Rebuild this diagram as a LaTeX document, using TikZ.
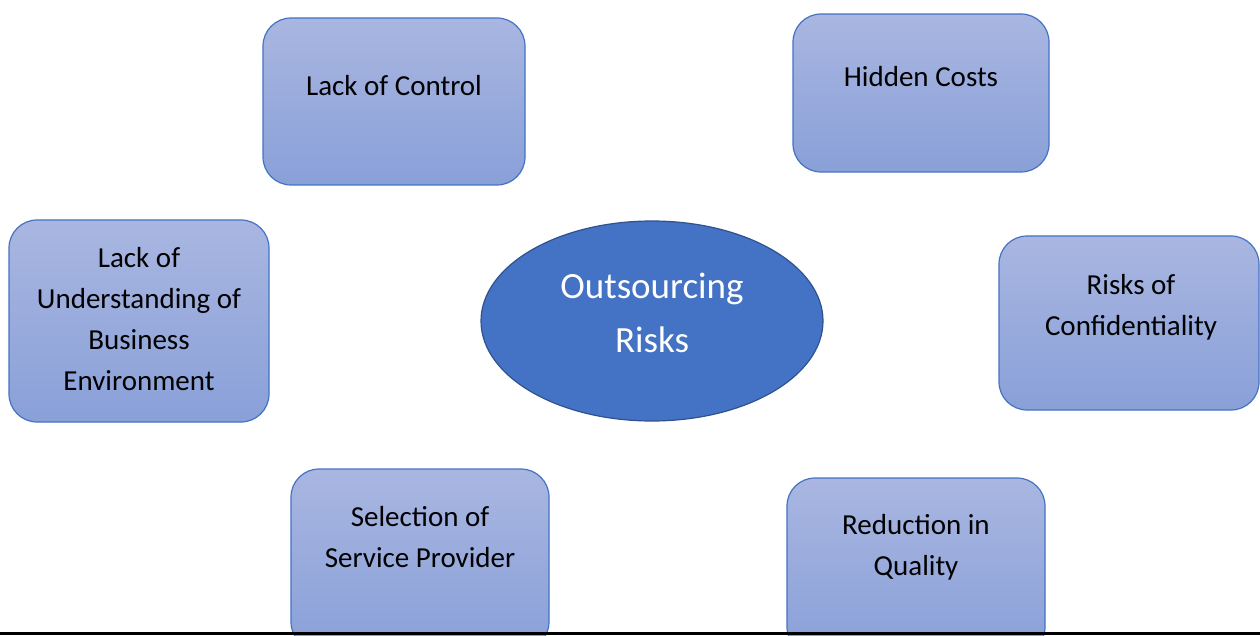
\documentclass[tikz,border=0pt]{standalone}
\usepackage{fontspec}
\setmainfont{Carlito}
\usetikzlibrary{shapes.geometric}
\definecolor{boxtop}{RGB}{169,182,225}
\definecolor{boxbottom}{RGB}{137,160,216}
\definecolor{boxedge}{RGB}{68,114,196}
\definecolor{hubfill}{RGB}{68,114,196}
\definecolor{hubedge}{RGB}{47,82,143}
\tikzset{
  % The 'risk-box' style is the rounded box with a light blue top-to-bottom shading
  risk-box/.style={draw=boxedge, line width=1.2pt, rounded corners=28pt, top color=boxtop, bottom color=boxbottom, inner sep=0pt},
  % The 'risk-text' style is for the black caption set inside each box
  risk-text/.style={font=\fontsize{29}{41}\selectfont, align=center, text=black, inner sep=0pt},
  % The 'hub' style is the solid blue ellipse in the middle
  hub/.style={shape=ellipse, fill=hubfill, draw=hubedge, line width=1.2pt, inner sep=0pt},
  % The 'hub-text' style is for the white title inside the ellipse
  hub-text/.style={font=\fontsize{37}{54}\selectfont, align=center, text=white, inner sep=0pt},
  % The 'floor-rule' style is the heavy black line along the bottom
  floor-rule/.style={draw=black, line width=3.5pt}
}

\begin{document}
\begin{tikzpicture}[x=1pt, y=-1pt]

  % Page frame, everything outside is cut away
  \clip (0,0) rectangle (1260,636);

  % Central ellipse
  \node[hub, minimum width=342pt, minimum height=200pt] at (652,321) (hub) {};
  \node[hub-text] at (652,313) (hub-text) {Outsourcing\\Risks};

  % Top row of boxes
  \node[risk-box, minimum width=262pt, minimum height=167pt] at (394,101.5) (control) {};
  \node[risk-text] at (394,86) (control-text) {Lack of Control};

  \node[risk-box, minimum width=256pt, minimum height=158pt] at (921,93) (costs) {};
  \node[risk-text] at (921,77) (costs-text) {Hidden Costs};

  % Middle row, either side of the ellipse
  \node[risk-box, minimum width=260pt, minimum height=202pt] at (139,321) (business) {};
  \node[risk-text] at (139,319.5) (business-text) {Lack of\\Understanding of\\Business\\Environment};

  \node[risk-box, minimum width=260pt, minimum height=174pt] at (1129,323) (confidential) {};
  \node[risk-text] at (1131,307.5) (confidential-text) {Risks of\\Confidentiality};

  % Bottom row, running off the page
  \node[risk-box, minimum width=258pt, minimum height=181pt] at (420,559.5) (provider) {};
  \node[risk-text] at (420,537) (provider-text) {Selection of\\Service Provider};

  \node[risk-box, minimum width=258pt, minimum height=177pt] at (916,566.5) (quality) {};
  \node[risk-text] at (916,547) (quality-text) {Reduction in\\Quality};

  % Heavy rule across the bottom edge
  \coordinate (rule-west) at (0,633.5);
  \coordinate (rule-east) at (1260,633.5);
  \draw[floor-rule] (rule-west) -- (rule-east);

\end{tikzpicture}
\end{document}
